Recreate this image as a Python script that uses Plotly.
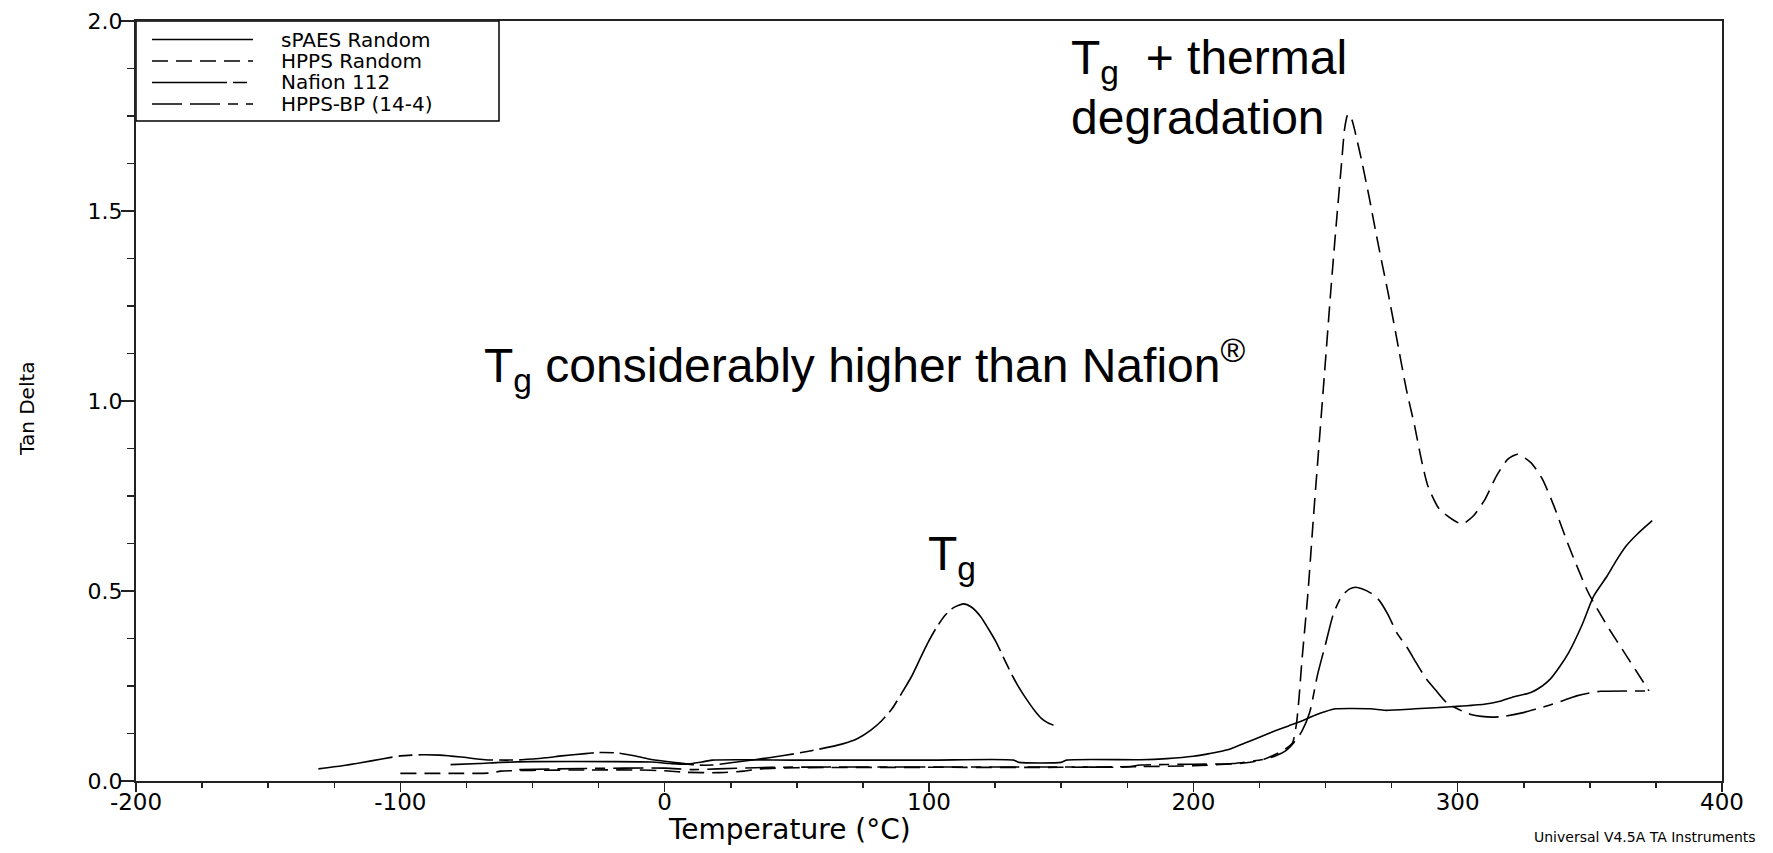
import plotly.graph_objects as go
import numpy as np

# ---------------- data ----------------
series_names = ["sPAES Random", "HPPS Random", "Nafion 112", "HPPS-BP (14-4)"]

spaes_T = [-81, -70, -62, -50, -20, -5, 2, 8, 14, 18, 50, 100, 132, 134, 150, 152, 180, 190,
           200, 206, 213, 219.5, 225, 231, 236, 241, 246, 250, 254, 267, 272.6, 284, 299, 310,
           316, 320.5, 327.7, 332, 335, 338.5, 342, 347, 351.5, 356.6, 360, 363.8, 368, 373.6]
spaes_tan = [0.043, 0.046, 0.049, 0.051, 0.051, 0.050, 0.046, 0.044, 0.050, 0.055, 0.055, 0.055,
             0.055, 0.049, 0.049, 0.055, 0.056, 0.059, 0.065, 0.072, 0.082, 0.100, 0.115, 0.132,
             0.145, 0.158, 0.173, 0.183, 0.190, 0.190, 0.186, 0.190, 0.196, 0.202, 0.210, 0.220,
             0.233, 0.250, 0.268, 0.300, 0.338, 0.410, 0.487, 0.540, 0.580, 0.619, 0.650, 0.685]

hpps_T = [-100, -80, -66, -62, -50, -30, -10, 0, 8, 20, 30, 36, 50, 100, 150, 180, 200, 212,
          220, 226.7, 232.5, 235, 237.5, 239, 240, 241, 243.3, 245.5, 247.6, 249.7, 252, 254,
          256, 257.3, 258.5, 260, 261, 263.6, 266.7, 268.6, 271.1, 273.7, 276.8, 280.6, 283.7,
          286.3, 288.7, 293, 298.8, 301.7, 306, 310.4, 314.7, 319, 322.7, 327.7, 332, 336.4,
          342, 349.4, 356.6, 363.8, 372.4]
hpps_tan = [0.020, 0.020, 0.021, 0.026, 0.028, 0.029, 0.029, 0.027, 0.023, 0.022, 0.026, 0.032,
            0.035, 0.036, 0.036, 0.038, 0.040, 0.044, 0.048, 0.057, 0.075, 0.085, 0.100, 0.150,
            0.220, 0.310, 0.490, 0.700, 0.890, 1.080, 1.290, 1.460, 1.620, 1.720, 1.755, 1.740,
            1.714, 1.635, 1.530, 1.460, 1.372, 1.284, 1.170, 1.030, 0.935, 0.845, 0.777, 0.716,
            0.685, 0.676, 0.698, 0.742, 0.803, 0.847, 0.860, 0.838, 0.795, 0.724, 0.619, 0.496,
            0.408, 0.330, 0.237]

nafion_T = [-131, -122, -115, -107, -100, -92, -85, -77, -68, -60, -54, -45, -39, -30, -25, -18,
            -12, -6, 0, 6, 12, 18, 25, 34, 45, 55, 67, 73, 78, 82, 86, 90, 93.4, 96.5, 99.5,
            102.5, 105.7, 109, 113, 116, 119.5, 122.5, 125.6, 128.5, 131.7, 135, 137.9, 140,
            142.5, 145, 147.1]
nafion_tan = [0.032, 0.040, 0.048, 0.058, 0.066, 0.069, 0.068, 0.063, 0.056, 0.055, 0.056, 0.061,
              0.066, 0.072, 0.075, 0.074, 0.067, 0.058, 0.052, 0.047, 0.042, 0.042, 0.048, 0.056,
              0.067, 0.079, 0.097, 0.112, 0.134, 0.158, 0.190, 0.235, 0.275, 0.320, 0.363, 0.400,
              0.433, 0.455, 0.466, 0.458, 0.433, 0.400, 0.363, 0.320, 0.275, 0.235, 0.205, 0.185,
              0.165, 0.153, 0.147]

bp_T = [-55, -30, 0, 10, 20, 40, 100, 150, 175, 180, 200, 215, 226.7, 231, 235, 238, 241, 244,
        247, 250, 253, 256, 259, 261.5, 264, 267, 270, 273.5, 277, 281, 284.4, 288, 291.6, 296,
        301.7, 305, 309, 313, 317.6, 324.8, 330, 335, 340, 345, 350, 354, 372.4]
bp_tan = [0.030, 0.033, 0.034, 0.030, 0.032, 0.036, 0.037, 0.037, 0.037, 0.042, 0.044, 0.046,
          0.057, 0.066, 0.080, 0.101, 0.130, 0.180, 0.280, 0.360, 0.440, 0.485, 0.505, 0.510,
          0.505, 0.495, 0.478, 0.440, 0.390, 0.350, 0.310, 0.270, 0.240, 0.205, 0.184, 0.175,
          0.170, 0.168, 0.170, 0.180, 0.190, 0.200, 0.212, 0.224, 0.232, 0.236, 0.237]

x_tick_vals = [-200, -100, 0, 100, 200, 300, 400]
x_tick_text = ["-200", "-100", "0", "100", "200", "300", "400"]

# ---------------- styles ----------------
dashes = ["solid", "16px,8px", "75px,6px,14px,6px", "30px,8px,30px,8px,10px,8px"]
LINE_W = 1.6
CHART_FONT = "DejaVu Sans"
NOTE_FONT = "Liberation Sans, Arial"
AX_COLOR = "#222222"

fig = go.Figure()
for name, xs, ys, d in zip(series_names,
                           [spaes_T, hpps_T, nafion_T, bp_T],
                           [spaes_tan, hpps_tan, nafion_tan, bp_tan],
                           dashes):
    fig.add_trace(go.Scatter(x=xs, y=ys, mode="lines", name=name, showlegend=False,
                             line=dict(color="black", width=LINE_W, dash=d, shape="spline",
                                       smoothing=0.6)))

# ---------------- page geometry ----------------
W, H = 1773, 853
PLOT_L, PLOT_R, PLOT_T, PLOT_B = 136, 1722, 21, 781   # pixels of the plot frame
ML, MT = PLOT_L, PLOT_T
MR = W - PLOT_R
MB = H - PLOT_B
PW, PH = PLOT_R - PLOT_L, PLOT_B - PLOT_T


def px2paper_x(px):
    return (px - PLOT_L) / PW


def px2paper_y(py):
    return (PLOT_B - py) / PH


shapes = [dict(type="rect", xref="paper", yref="paper",
               x0=px2paper_x(136), x1=px2paper_x(499),
               y0=px2paper_y(121), y1=1.0,
               line=dict(color="black", width=1.5), fillcolor="white", layer="below")]
annotations = []
row_y = [39.5, 61, 82.5, 104]
for name, d, ry in zip(series_names, dashes, row_y):
    shapes.append(dict(type="line", xref="paper", yref="paper",
                       x0=px2paper_x(152), x1=px2paper_x(253),
                       y0=px2paper_y(ry), y1=px2paper_y(ry),
                       line=dict(color="black", width=1.6, dash=d)))
    annotations.append(dict(text=name, xref="paper", yref="paper",
                            x=px2paper_x(279), y=px2paper_y(ry),
                            xanchor="left", yanchor="middle", showarrow=False,
                            font=dict(family=CHART_FONT, size=20, color="black")))

# axis titles and footer
annotations.append(dict(text="Tan Delta", xref="paper", yref="paper",
                        x=px2paper_x(27), y=px2paper_y(409), textangle=-90,
                        xanchor="center", yanchor="middle", showarrow=False,
                        font=dict(family=CHART_FONT, size=20, color="black")))
annotations.append(dict(text="Temperature (°C)", xref="paper", yref="paper",
                        x=px2paper_x(789), y=px2paper_y(830),
                        xanchor="center", yanchor="middle", showarrow=False,
                        font=dict(family=CHART_FONT, size=28, color="black")))
annotations.append(dict(text="Universal V4.5A TA Instruments", xref="paper", yref="paper",
                        x=px2paper_x(1532), y=px2paper_y(837),
                        xanchor="left", yanchor="middle", showarrow=False,
                        font=dict(family=CHART_FONT, size=14, color="black")))

# slide annotations
NOTE_SIZE = 48
annotations.append(dict(text="T<sub>g</sub> considerably higher than Nafion<sup>®</sup>",
                        xref="paper", yref="paper", x=px2paper_x(482), y=px2paper_y(330),
                        xanchor="left", yanchor="top", showarrow=False,
                        font=dict(family=NOTE_FONT, size=NOTE_SIZE, color="black")))
annotations.append(dict(text="T<sub>g</sub>",
                        xref="paper", yref="paper", x=px2paper_x(926), y=px2paper_y(525),
                        xanchor="left", yanchor="top", showarrow=False,
                        font=dict(family=NOTE_FONT, size=NOTE_SIZE, color="black")))
annotations.append(dict(text="T<sub>g</sub>  + thermal",
                        xref="paper", yref="paper", x=px2paper_x(1069), y=px2paper_y(29),
                        xanchor="left", yanchor="top", align="left", showarrow=False,
                        font=dict(family=NOTE_FONT, size=NOTE_SIZE, color="black")))
annotations.append(dict(text="degradation",
                        xref="paper", yref="paper", x=px2paper_x(1069), y=px2paper_y(89),
                        xanchor="left", yanchor="top", align="left", showarrow=False,
                        font=dict(family=NOTE_FONT, size=NOTE_SIZE, color="black")))

fig.update_layout(
    width=W, height=H,
    margin=dict(l=ML, r=MR, t=MT, b=MB, pad=0, autoexpand=False),
    paper_bgcolor="white", plot_bgcolor="white",
    shapes=shapes, annotations=annotations,
    showlegend=False, hovermode=False,
    xaxis=dict(range=[-200, 400], tickmode="array", tickvals=x_tick_vals, ticktext=x_tick_text,
               automargin=False,
               showgrid=False, zeroline=False, showline=True, linecolor=AX_COLOR, linewidth=2,
               mirror=True, ticks="outside", ticklen=9, tickwidth=1.5, tickcolor=AX_COLOR,
               ticklabelstandoff=-10,
               tickfont=dict(family=CHART_FONT, size=23, color="black"),
               minor=dict(tickmode="array", tickvals=list(np.arange(-200, 401, 25)),
                          ticks="outside", ticklen=5, tickwidth=1.5, tickcolor=AX_COLOR,
                          showgrid=False)),
    yaxis=dict(range=[0, 2.0], tickmode="linear", tick0=0, dtick=0.5, tickformat=".1f",
               automargin=False,
               showgrid=False, zeroline=False, showline=True, linecolor=AX_COLOR, linewidth=2,
               mirror=True, ticks="outside", ticklen=13, tickwidth=1.5, tickcolor=AX_COLOR,
               ticklabelstandoff=-6,
               tickfont=dict(family=CHART_FONT, size=22, color="black"),
               minor=dict(tickmode="linear", tick0=0, dtick=0.125, ticks="outside", ticklen=7,
                          tickwidth=1.5, tickcolor=AX_COLOR, showgrid=False)),
)

# remove the browser's default 8px page margin so the figure fills the window exactly
fig.write_html("out.html", config={"displayModeBar": False, "staticPlot": True},
               post_script="document.body.style.margin='0';")
